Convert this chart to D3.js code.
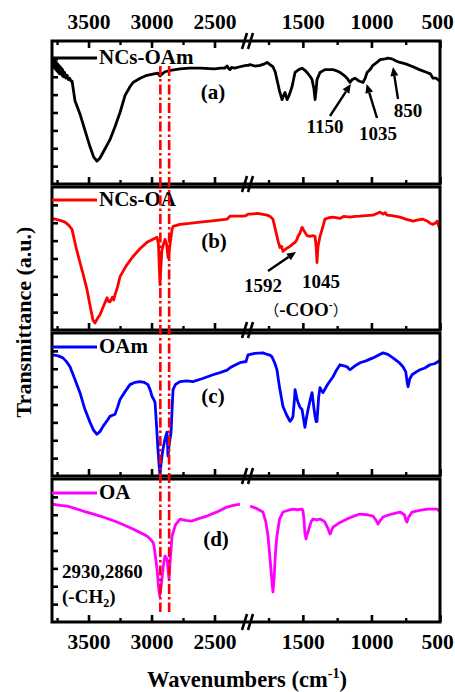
<!DOCTYPE html>
<html>
<head>
<meta charset="utf-8">
<script src="https://cdn.jsdelivr.net/npm/d3@7"></script>
<style>
  body { margin: 0; background: #fff; }
  svg text { font-family: "Liberation Serif", "Times New Roman", serif; font-weight: bold; }
</style>
</head>
<body>
<div id="chart"></div>
<script>
"use strict";

// FTIR spectra: [wavenumber (cm-1), transmittance (a.u., 0-100 inside each panel)]
const ncsOAm = [
  [3790,84],[3785,88],[3780,82],[3775,87],[3770,81],[3765,86],[3760,80],[3755,85],[3750,79],[3745,84],
  [3740,78],[3735,83],[3730,77],[3725,82],[3720,77],[3715,81],[3710,76],[3705,80],[3700,75],[3690,78],
  [3680,74],[3670,76],[3660,73],[3650,74],[3640,72],[3631,72],[3607,58],[3568,49],[3530,38],[3488,26],
  [3460,19],[3433,16],[3410,18],[3385,22],[3330,31],[3290,40],[3250,50],[3210,62],[3171,68],[3147,71],
  [3090,74],[3036,76],[2980,77],[2950,77.5],[2933,75.5],[2915,77],[2893,78.5],[2850,79.5],[2774,80.5],
  [2700,81],[2615,81],[2500,80.5],[2450,81],[2420,81],[2400,82.5],[2390,81],[2377,80],[2365,81.5],
  [2340,81],[2298,82],[2250,83],[1900,83],[1885,83.5],[1850,82.5],[1812,83],[1780,84],[1761,85],
  [1740,83.5],[1718,82],[1700,78],[1689,73],[1670,65],[1652,59],[1640,62],[1630,64],[1615,59],[1600,62],
  [1579,68],[1557,78],[1530,80],[1506,81],[1485,79.5],[1470,78],[1445,75],[1433,73],[1420,67],[1411,59],
  [1403,66],[1397,73],[1375,78],[1339,80],[1300,80],[1280,80],[1250,79],[1229,78],[1200,76],[1178,74],
  [1156,71],[1140,73],[1120,74],[1105,73],[1090,72],[1061,71],[1045,74],[1032,78],[1010,80],[989,83],
  [960,85],[937,87],[900,87.5],[879,88],[850,87.5],[820,86],[792,85],[750,84],[697,82],[650,80],
  [595,78],[570,77],[551,74],[530,74],[515,73],[500,72]
];

const ncsOA = [
  [3790,78],[3766,77.5],[3720,76.5],[3687,75.4],[3660,73.5],[3631,70.4],[3600,58],[3568,47.2],[3540,38],
  [3512,28.2],[3490,18],[3465,7],[3449,4.9],[3430,8],[3409,10.6],[3380,17],[3353,22.5],[3340,20],[3330,19.7],
  [3310,23],[3300,21],[3290,24.6],[3270,30],[3250,37.3],[3200,45],[3147,51.4],[3090,57],[3036,61.3],
  [2988,63.4],[2956,64.8],[2945,60],[2933,31.7],[2925,45],[2917,56.3],[2893,63.4],[2880,60],[2869,50.7],
  [2860,55],[2853,59.9],[2837,70.4],[2829,72.5],[2774,73.9],[2700,74.5],[2615,75.4],[2500,76.5],
  [2401,77.5],[2377,79.6],[2330,79.6],[2274,79.6],[2250,80],[1900,81],[1885,81],[1830,81.5],[1790,80.8],
  [1761,80.3],[1740,79.5],[1718,77.5],[1700,70],[1680,62],[1667,57.7],[1655,58.5],[1645,54.9],[1620,57],
  [1594,58.5],[1575,60],[1557,61.3],[1545,63],[1535,65.5],[1520,68],[1506,71.8],[1495,70],[1485,68.3],
  [1470,66],[1448,65.5],[1430,66],[1411,65.5],[1403,58],[1397,47.2],[1390,58],[1375,65.5],[1355,72],
  [1339,77.5],[1310,78.5],[1280,78.9],[1230,78],[1200,79.5],[1156,78.9],[1120,79.5],[1083,79.6],
  [1040,80],[989,80.3],[960,81.5],[937,82.4],[915,81],[900,82],[886,80.3],[850,80],[820,79.5],[792,78.9],
  [750,77.5],[697,76.1],[660,77],[624,77.5],[590,76],[570,74.5],[551,73.9],[530,75],[522,76.1],[510,73],
  [500,70.4]
];

const oam = [
  [3790,85],[3782,84.7],[3740,84],[3703,82.6],[3675,80],[3647,76.4],[3610,68],[3568,58.3],[3530,47],
  [3488,37.5],[3460,32],[3433,29.2],[3410,31],[3385,34.7],[3350,39],[3330,41.7],[3310,42.5],[3290,43.1],
  [3270,48],[3250,53.5],[3210,59],[3171,63.9],[3130,65.5],[3091,66],[3060,65.5],[3028,63.9],[3010,60],
  [2996,55.6],[2985,54],[2972,51.4],[2960,35],[2949,18.8],[2940,8],[2933,0.7],[2925,8],[2917,14],
  [2909,18.8],[2893,26],[2877,30.6],[2869,13.9],[2860,22],[2845,30.6],[2835,50],[2829,60.4],[2810,64],
  [2774,66],[2720,66.5],[2671,66],[2600,68],[2512,70.8],[2450,72.5],[2400,74],[2377,75.7],[2340,77.5],
  [2298,79.2],[2258,79.9],[2250,80],[1900,84.7],[1850,85.8],[1791,86.1],[1760,85],[1740,84.5],[1725,83.3],
  [1705,79],[1689,74.3],[1670,62],[1645,48.6],[1620,43],[1594,38.2],[1580,40],[1572,41.7],[1560,55],
  [1557,60.4],[1545,55],[1535,51.4],[1520,48],[1506,46.5],[1495,40],[1485,34],[1475,40],[1462,46.5],
  [1445,54],[1433,58.3],[1420,48],[1411,41.7],[1403,38],[1397,38.2],[1385,55],[1375,61.8],[1365,60],
  [1353,58.3],[1320,64],[1280,69.4],[1255,74],[1229,77.8],[1200,77],[1178,76.4],[1165,75],[1156,74.3],
  [1120,77],[1083,79.2],[1040,80.5],[989,82.6],[950,84.5],[916,86.1],[880,85],[843,82.6],[800,79.5],
  [770,76.4],[750,73],[740,66],[733,62.5],[720,68],[704,70.8],[670,73],[646,74.3],[610,75.5],[573,77.8],
  [540,78.5],[515,79.9],[500,81]
];

// the OA spectrum has no data across the axis break
const oa = [
  [3790,82.5],[3760,82],[3720,81.5],[3671,81.1],[3610,79.5],[3544,77.6],[3480,76],[3409,74.1],[3340,72],
  [3274,69.9],[3210,67.5],[3147,65],[3090,62.5],[3036,60.1],[3010,58],[2996,56.6],[2985,55],[2980,53.1],
  [2968,45],[2956,37.1],[2945,25],[2935,18.2],[2925,24],[2917,30.1],[2905,40],[2893,46.2],[2877,44.1],
  [2868,36],[2861,30.1],[2850,45],[2837,60.1],[2810,68],[2774,72],[2730,71],[2679,70.6],[2620,72.5],
  [2560,74.1],[2480,77],[2401,80.4],[2350,81.5],[2298,82.5],[2100,null],
  [1885,81.1],[1840,79.5],[1791,76.9],[1770,70],[1754,60.1],[1740,45],[1725,28],[1718,21],[1710,30],
  [1700,48],[1689,60.1],[1670,72],[1645,76.9],[1610,78],[1572,79],[1540,78.5],[1506,79],[1500,78],
  [1492,72],[1485,62],[1477,58],[1470,61],[1462,62.9],[1450,67],[1440,70],[1426,72],[1400,71.5],
  [1375,72],[1355,71],[1339,69.9],[1320,66],[1302,61.5],[1290,64],[1280,66.4],[1240,69],[1210,70.5],
  [1178,72],[1130,74],[1083,75.5],[1030,75],[989,74.1],[965,71],[952,68.5],[935,71],[916,73.4],[870,75],
  [830,76],[792,76.9],[760,75],[748,71],[741,69.9],[730,73],[704,76.9],[650,78],[595,79],[560,79],
  [522,79],[510,78],[500,77.6]
];

const seriesNames = ["NCs-OAm", "NCs-OA", "OAm", "OA"];
const panelTags = ["(a)", "(b)", "(c)", "(d)"];
const majorTicks = [3500, 3000, 2500, 1500, 1000, 500];
const minorTicks = [3750, 3250, 2750, 1750, 1250, 750];
const yTicks = [12.5, 25, 37.5, 50, 62.5, 75, 87.5];
const ch2Bands = [2930, 2860];

const width = 455, height = 692;
const plotLeft = 52, plotRight = 440;
const panelTop = 41, panelH = 143, panelGap = 3;
const colors = ["#000000", "#ff0000", "#0000ff", "#ff00ff"];
const legendOffset = [17, 13, 14, 14];
const font = '"Liberation Serif", "Times New Roman", serif';

const svg = d3.select("#chart")
  .append("svg")
  .attr("width", width)
  .attr("height", height);

// broken axis: 3790-2250 on the left part, 1900-500 on the right part
const x = d3.scaleLinear()
  .domain([3790, 2250, 1900, 500])
  .range([plotLeft, 246, 248, plotRight]);
const breakX = (x(2250) + x(1900)) / 2;

function styleAxis(sel, width) {
  sel.select(".domain").remove();
  sel.selectAll(".tick line").attr("stroke", "#000").attr("stroke-width", width);
  sel.attr("font-family", font).attr("font-size", 21.5).attr("font-weight", "bold");
  sel.selectAll(".tick text").attr("fill", "#000")
    .attr("dx", d => d === 500 ? -3 : 0);
}

function breakMark(yPos) {
  [-5, 1].forEach(dx => {
    svg.append("line")
      .attr("x1", breakX + dx).attr("y1", yPos + 8)
      .attr("x2", breakX + dx + 5).attr("y2", yPos - 8)
      .attr("stroke", "#000").attr("stroke-width", 2.6);
  });
}

[ncsOAm, ncsOA, oam, oa].forEach((data, i) => {
  const top = panelTop + i * (panelH + panelGap);
  const bottom = top + panelH;
  const y = d3.scaleLinear().domain([0, 100]).range([bottom, top]);

  svg.append("clipPath").attr("id", "clip" + i)
    .append("rect")
    .attr("x", plotLeft).attr("y", top)
    .attr("width", plotRight - plotLeft).attr("height", panelH);

  svg.append("path")
    .datum(data)
    .attr("clip-path", `url(#clip${i})`)
    .attr("fill", "none")
    .attr("stroke", colors[i])
    .attr("stroke-width", 2.8)
    .attr("stroke-linejoin", "round")
    .attr("d", d3.line().defined(d => d[1] !== null).x(d => x(d[0])).y(d => y(d[1])));

  svg.append("rect")
    .attr("x", plotLeft).attr("y", top)
    .attr("width", plotRight - plotLeft).attr("height", panelH)
    .attr("fill", "none").attr("stroke", "#000").attr("stroke-width", 3);

  // bottom ticks, pointing inwards; labels only on the last panel
  const bx = svg.append("g").attr("transform", `translate(0,${bottom})`)
    .call(d3.axisBottom(x).tickValues(majorTicks).tickSize(-7).tickPadding(12)
      .tickFormat(i === 3 ? d3.format("d") : ""));
  styleAxis(bx, 2.6);
  const bm = svg.append("g").attr("transform", `translate(0,${bottom})`)
    .call(d3.axisBottom(x).tickValues(minorTicks).tickSize(-4).tickFormat(""));
  styleAxis(bm, 2.4);
  breakMark(bottom);

  if (i === 0) {
    const tx = svg.append("g").attr("transform", `translate(0,${top})`)
      .call(d3.axisTop(x).tickValues(majorTicks).tickSize(-7).tickPadding(12).tickFormat(d3.format("d")));
    styleAxis(tx, 2.6);
    const tm = svg.append("g").attr("transform", `translate(0,${top})`)
      .call(d3.axisTop(x).tickValues(minorTicks).tickSize(-4).tickFormat(""));
    styleAxis(tm, 2.4);
    breakMark(top);
  }

  const ly = svg.append("g").attr("transform", `translate(${plotLeft},0)`)
    .call(d3.axisLeft(y).tickValues(yTicks).tickSize(-6).tickFormat(""));
  styleAxis(ly, 2.6);

  // legend
  const legY = top + legendOffset[i];
  svg.append("line")
    .attr("x1", plotLeft).attr("x2", 97)
    .attr("y1", legY).attr("y2", legY)
    .attr("stroke", colors[i]).attr("stroke-width", 2.8);
  svg.append("text")
    .attr("x", 99).attr("y", legY + 6)
    .attr("font-size", 21)
    .text(seriesNames[i]);
});

// panel tags
const tagPos = [[213, 99], [214, 248], [213, 403], [216, 546]];
panelTags.forEach((t, i) => {
  svg.append("text")
    .attr("x", tagPos[i][0]).attr("y", tagPos[i][1])
    .attr("text-anchor", "middle")
    .attr("font-size", 21)
    .text(t);
});

// -CH2 stretching guide lines
ch2Bands.forEach(wn => {
  svg.append("line")
    .attr("x1", x(wn)).attr("x2", x(wn))
    .attr("y1", 66).attr("y2", 612)
    .attr("stroke", "#ff0000")
    .attr("stroke-width", 2.6)
    .attr("stroke-dasharray", "10,3,2.5,3");
});

function arrow(x1, y1, x2, y2) {
  const a = Math.atan2(y2 - y1, x2 - x1);
  const len = 9, half = 4;
  const bx = x2 - len * Math.cos(a), by = y2 - len * Math.sin(a);
  svg.append("line")
    .attr("x1", x1).attr("y1", y1).attr("x2", bx).attr("y2", by)
    .attr("stroke", "#000").attr("stroke-width", 2.4);
  svg.append("polygon")
    .attr("points", [
      [x2, y2],
      [bx + half * Math.sin(a), by - half * Math.cos(a)],
      [bx - half * Math.sin(a), by + half * Math.cos(a)]
    ].map(p => p.join(",")).join(" "))
    .attr("fill", "#000");
}

arrow(330, 116, x(1150), 84);
arrow(377, 118, x(1035), 84);
arrow(398, 99, x(850) + 1, 67);
arrow(268, 271, 296, 252);

function label(txt, xp, yp, anchor) {
  return svg.append("text")
    .attr("x", xp).attr("y", yp)
    .attr("text-anchor", anchor || "middle")
    .attr("font-size", 19)
    .text(txt);
}

label("1150", 325, 133);
label("1035", 378, 140);
label("850", 408, 117);
label("1592", 263, 292);
label("1045", 321, 288);

const coo = svg.append("text")
  .attr("x", 306).attr("y", 316)
  .attr("text-anchor", "middle")
  .attr("font-size", 19);
coo.append("tspan").attr("font-size", 15).attr("font-family", '"Noto Sans CJK SC", sans-serif').attr("font-weight", "normal").text("（");
coo.append("tspan").text("-COO");
coo.append("tspan").attr("font-size", 12).attr("dy", -7).text("-");
coo.append("tspan").attr("dy", 7).attr("font-size", 15).attr("font-family", '"Noto Sans CJK SC", sans-serif').attr("font-weight", "normal").text("）");

label("2930,2860", 62, 578, "start");
const ch2 = svg.append("text")
  .attr("x", 62).attr("y", 603)
  .attr("font-size", 19);
ch2.append("tspan").text("(-CH");
ch2.append("tspan").attr("font-size", 12).attr("dy", 4).text("2");
ch2.append("tspan").attr("dy", -4).text(")");

// axis titles
const xt = svg.append("text")
  .attr("x", 247).attr("y", 687)
  .attr("text-anchor", "middle")
  .attr("font-size", 22.5);
xt.append("tspan").text("Wavenumbers (cm");
xt.append("tspan").attr("font-size", 14).attr("dy", -9).text("-1");
xt.append("tspan").attr("dy", 9).text(")");

svg.append("text")
  .attr("transform", "translate(31,322) rotate(-90)")
  .attr("text-anchor", "middle")
  .attr("font-size", 22)
  .text("Transmittance (a.u.)");
</script>
</body>
</html>
